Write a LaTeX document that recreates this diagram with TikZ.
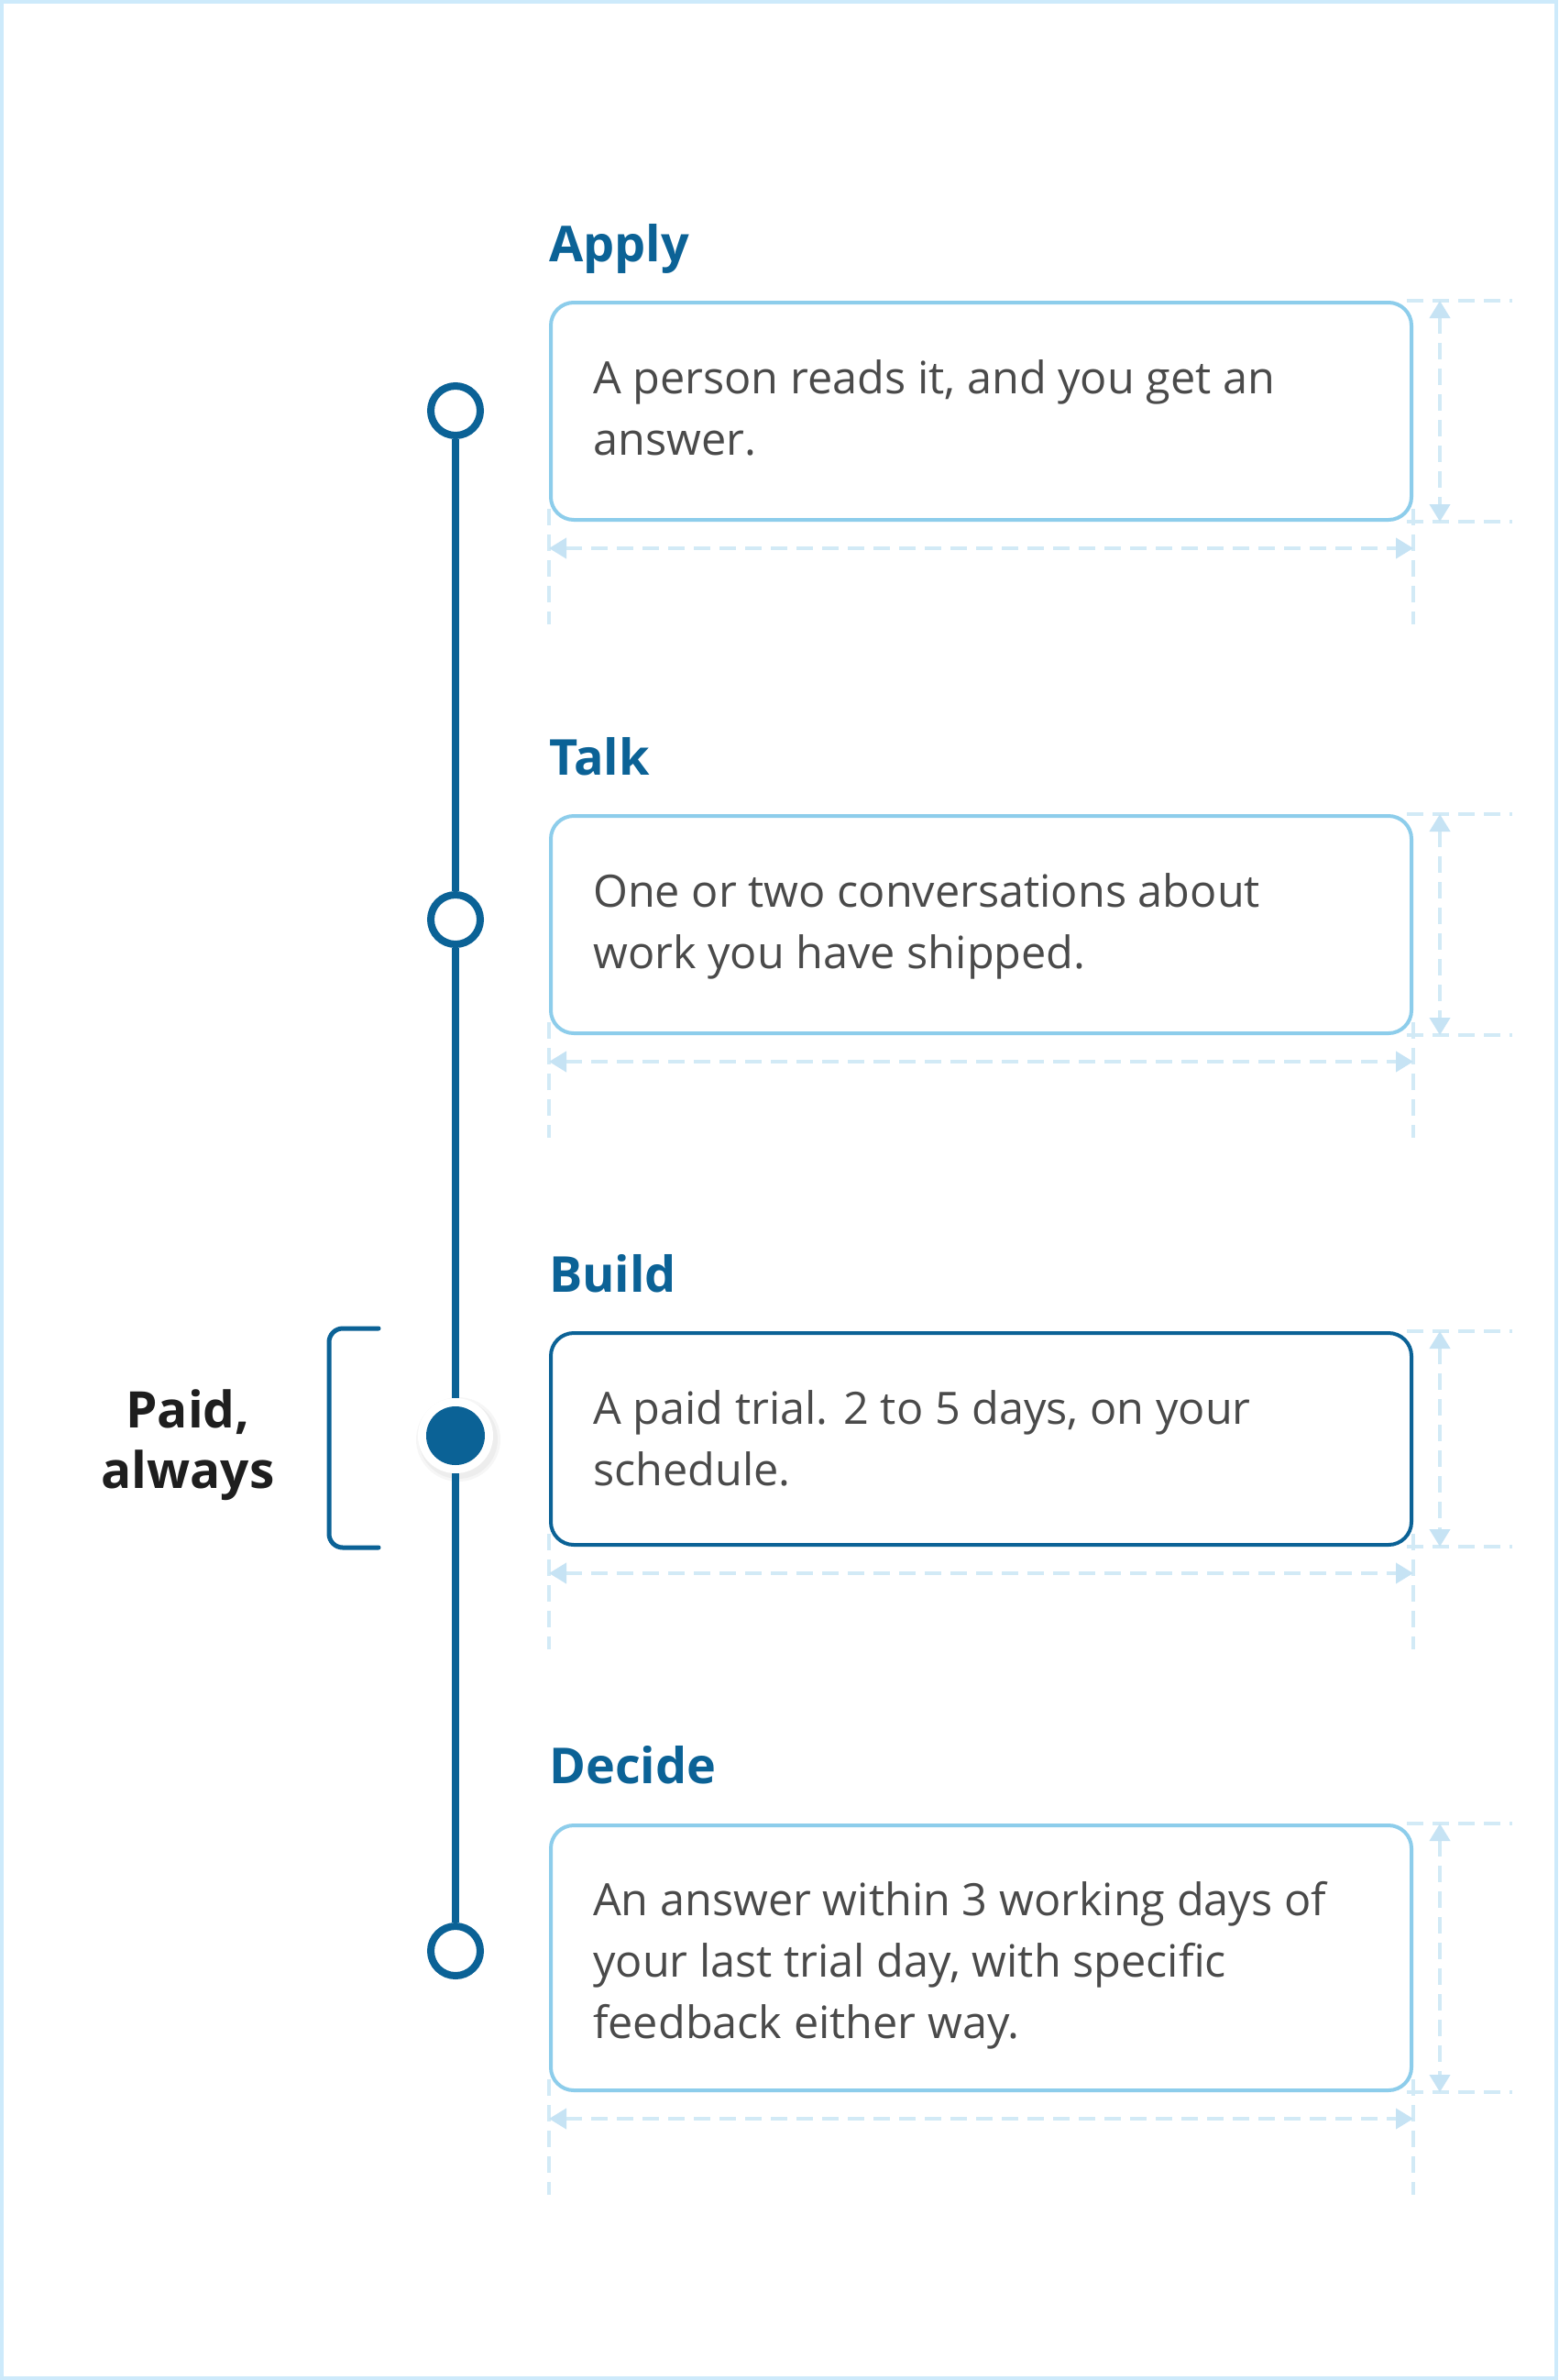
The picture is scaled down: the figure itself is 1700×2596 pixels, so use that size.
\documentclass[tikz,border=0pt]{standalone}
\usepackage{fontspec}
\setmainfont{Open Sans}
\usetikzlibrary{arrows.meta}
\definecolor{navy}{HTML}{0B6296}
\definecolor{boxline}{HTML}{8DCDEB}
\definecolor{dimline}{HTML}{D2EAF6}
\definecolor{dimtip}{HTML}{C6E3F4}
\definecolor{framecol}{HTML}{CDEAFB}
\definecolor{bodytext}{HTML}{4A4A4A}
\definecolor{darktext}{HTML}{1E1E1E}
\begin{document}
\begin{tikzpicture}[x=1pt,y=-1pt,
  ring/.style={circle, draw=navy, fill=white, line width=8pt, minimum size=54pt, inner sep=0pt},
  dotnode/.style={circle, fill=navy, minimum size=64pt, inner sep=0pt},
  halo/.style={circle, fill=white, minimum size=82pt, inner sep=0pt},
  tl/.style={draw=navy, line width=8pt},
  card/.style={draw=boxline, line width=4pt, rounded corners=25pt, minimum width=939pt, inner sep=0pt, anchor=north west, fill=white},
  cardon/.style={card, draw=navy},
  steptitle/.style={anchor=base west, inner sep=0pt, text=navy, font=\fontsize{54}{60}\selectfont\bfseries},
  body/.style={anchor=base west, inner sep=0pt, text=bodytext, align=left, font=\fontsize{48.6}{67}\selectfont},
  paidtext/.style={anchor=base, inner sep=0pt, text=darktext, align=center, font=\fontsize{55}{66}\selectfont\bfseries},
  dimext/.style={draw=dimline, line width=4pt, dash pattern=on 18pt off 10pt},
  dimarr/.style={dimext, {Triangle[width=22pt,length=19pt,color=dimtip]}-{Triangle[width=22pt,length=19pt,color=dimtip]}},
  bracketline/.style={draw=navy, line width=5pt, line cap=round, rounded corners=15pt},
]
\useasboundingbox (0,0) rectangle (1700,2596);
\fill[white] (0,0) rectangle (1700,2596);
\draw[framecol, line width=4pt] (2,2) rectangle (1698,2594);

% titles
\node[steptitle] (t1) at (599,285) {Apply};
\node[steptitle] (t2) at (599,845) {Talk};
\node[steptitle] (t3) at (599,1409) {Build};
\node[steptitle] (t4) at (599,1945) {Decide};

% cards
\node[card, minimum height=237pt] (b1) at (599,328) {};
\node[card, minimum height=237pt] (b2) at (599,888) {};
\node[cardon, minimum height=231pt] (b3) at (599,1452) {};
\node[card, minimum height=289pt] (b4) at (599,1989) {};

% body texts (anchored at the baseline of the last line)
\node[body] (x1) at (647,496) {A person reads it, and you get an\\answer.};
\node[body] (x2) at (647,1056) {One or two conversations about\\work you have shipped.};
\node[body] (x3) at (647,1620) {A paid trial. 2 to 5 days, on your\\schedule.};
\node[body] (x4) at (647,2223) {An answer within 3 working days of\\your last trial day, with specific\\feedback either way.};

% dimension marks
\foreach \b in {b1,b2,b3,b4}{
  \draw[dimext] (\b.south west) ++(0,-14) -- ++(0,126);
  \draw[dimext] (\b.south east) ++(0,-14) -- ++(0,126);
  \draw[dimext] (\b.north east) ++(-7,0) -- ++(115,0);
  \draw[dimext] (\b.south east) ++(-7,0) -- ++(115,0);
  \draw[dimarr] ([yshift=-29pt]\b.south west) -- ([yshift=-29pt]\b.south east);
  \draw[dimarr] ([xshift=29pt]\b.north east) -- ([xshift=29pt]\b.south east);
}

% timeline
\fill[black, opacity=0.035] (500,1570) circle (46);
\fill[black, opacity=0.035] (500,1570) circle (43);
\node[ring] (c1) at (497,448) {};
\node[ring] (c2) at (497,1003) {};
\node[halo] (h3) at (497,1566) {};
\node[dotnode] (c3) at (497,1566) {};
\node[ring] (c4) at (497,2128) {};
\draw[tl] (c1) -- (c2);
\draw[tl] (c2) -- (h3);
\draw[tl] (h3) -- (c4);

% bracket and label
\coordinate (bt) at (413,1449);
\coordinate (bb) at (413,1688);
\draw[bracketline] (bt) -- (359,1449) -- (359,1688) -- (bb);
\node[paidtext] (paid) at (205,1623) {Paid,\\always};
\end{tikzpicture}
\end{document}
